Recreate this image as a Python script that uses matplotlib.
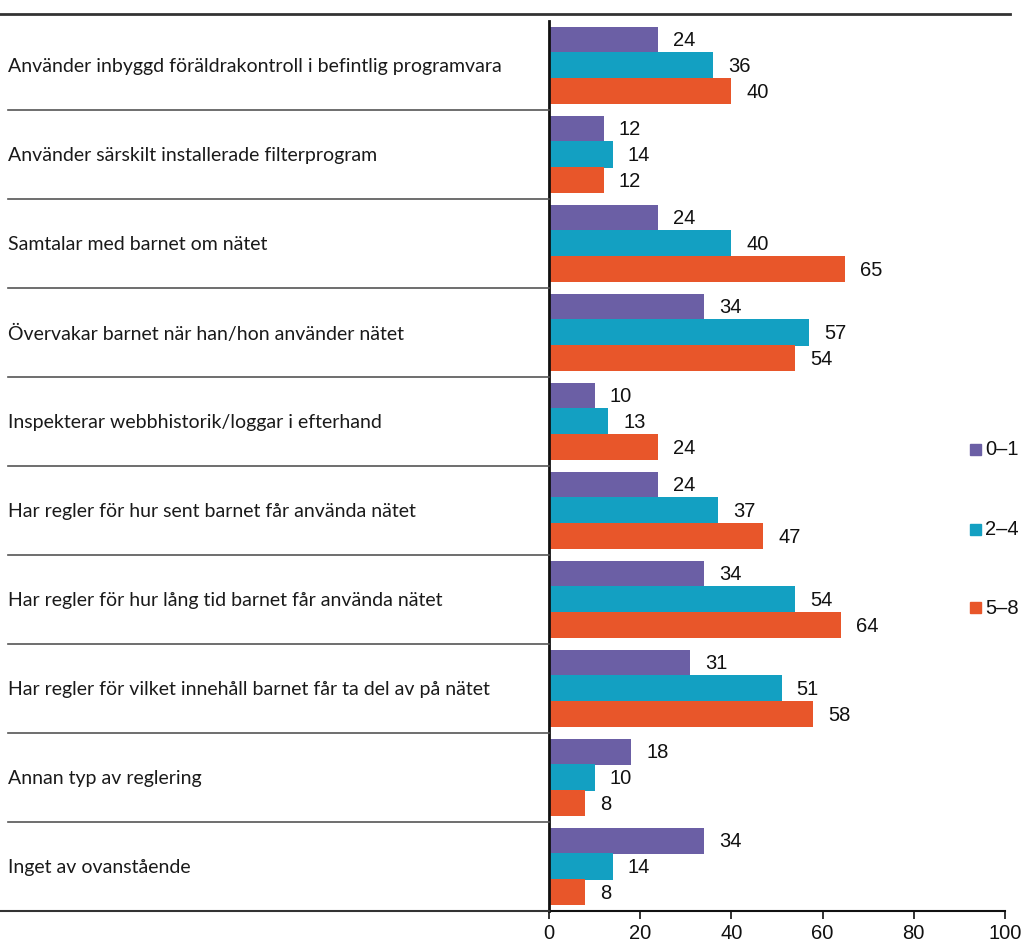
import matplotlib
matplotlib.use("Agg")
import matplotlib.pyplot as plt
from matplotlib.lines import Line2D
from matplotlib.patches import Rectangle

categories = [
    "Använder inbyggd föräldrakontroll i befintlig programvara",
    "Använder särskilt installerade filterprogram",
    "Samtalar med barnet om nätet",
    "Övervakar barnet när han/hon använder nätet",
    "Inspekterar webbhistorik/loggar i efterhand",
    "Har regler för hur sent barnet får använda nätet",
    "Har regler för hur lång tid barnet får använda nätet",
    "Har regler för vilket innehåll barnet får ta del av på nätet",
    "Annan typ av reglering",
    "Inget av ovanstående",
]
series_names = ["0–1", "2–4", "5–8"]
v01 = [24, 12, 24, 34, 10, 24, 34, 31, 18, 34]
v24 = [36, 14, 40, 57, 13, 37, 54, 51, 10, 14]
v58 = [40, 12, 65, 54, 24, 47, 64, 58, 8, 8]
colors = ["#6B5FA5", "#13A0C2", "#E8562A"]
xticks = [0, 20, 40, 60, 80, 100]

W, H = 1027, 945
fig = plt.figure(figsize=(W / 100, H / 100), dpi=100)
ax = fig.add_axes([549 / W, 1 - 912 / H, (1005 - 549) / W, (912 - 22) / H])

n = len(categories)
bh = 0.295
offsets = [-0.29, 0.0, 0.29]
for vals, c, off in zip([v01, v24, v58], colors, offsets):
    ys = [i + off for i in range(n)]
    ax.barh(ys, vals, height=bh, color=c, zorder=2)
    for y, v in zip(ys, vals):
        ax.text(v + 3.3, y + 0.0, str(v), va="center", ha="left",
                fontsize=14.5, family="Liberation Sans", color="#111111")

ax.set_ylim(n - 0.5, -0.5)
ax.set_xlim(0, 100)
ax.set_yticks([])
ax.set_xticks(xticks)
ax.set_xticklabels([str(t) for t in xticks], fontsize=14.5, family="Liberation Sans")
ax.tick_params(axis="x", direction="out", length=6, width=1.2, pad=3, colors="#111111")
for s in ["top", "right"]:
    ax.spines[s].set_visible(False)
ax.spines["left"].set_linewidth(2)
ax.spines["left"].set_color("#111111")
ax.spines["bottom"].set_linewidth(1.5)
ax.spines["bottom"].set_color("#111111")

# category labels and separators (figure coords)
for i, cat in enumerate(categories):
    yc = 1 - (22 + 89 * (i + 0.5)) / H
    fig.text(8 / W, yc, cat, ha="left", va="center", fontsize=14,
             family="Lato", color="#1a1a1a")
    ysep = 1 - (22 + 89 * (i + 1)) / H
    fig.add_artist(Line2D([8 / W, 549 / W], [ysep, ysep], color="#555555", lw=1.2))

# top line and bottom line
fig.add_artist(Line2D([0, 1010 / W], [1 - 15 / H, 1 - 15 / H], color="#333333", lw=2))
fig.add_artist(Line2D([0, 549 / W], [1 - 912 / H, 1 - 912 / H], color="#333333", lw=1.5))

# legend
leg_y = [450, 530, 608]
for name, c, yp in zip(series_names, colors, leg_y):
    fig.add_artist(Rectangle((970 / W, 1 - (yp + 6) / H), 11 / W, 11 / H,
                             color=c, transform=fig.transFigure))
    fig.text(985 / W, 1 - yp / H, name, ha="left", va="center", fontsize=14.5,
             family="Liberation Sans", color="#111111")

fig.savefig("out.png", dpi=100)
